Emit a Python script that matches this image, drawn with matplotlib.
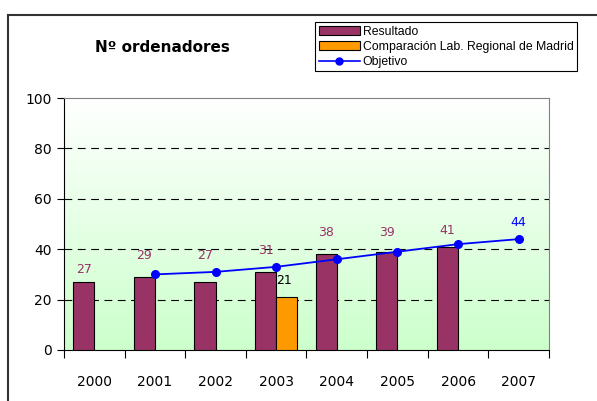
import numpy as np
import matplotlib.pyplot as plt
from matplotlib.lines import Line2D
from matplotlib.patches import Patch

years = ["2000", "2001", "2002", "2003", "2004", "2005", "2006", "2007"]
resultado = [27, 29, 27, 31, 38, 39, 41, None]
comparacion = [None, None, None, 21, None, None, None, None]
objetivo = [None, 30, 31, 33, 36, 39, 42, 44]

# label lifts above bar tops (Excel moved some around the line)
res_lift = [2.2, 5.8, 7.8, 5.8, 6, 5, 3.8, 0]

maroon = "#993366"
orange = "#FF9900"
blue = "#0000FF"

fig = plt.figure(figsize=(5.97, 4.01), dpi=100)
ax = fig.add_axes([0.1072, 0.1272, 0.8124, 0.6284])

x = np.arange(len(years))
w = 0.35

# gradient background
grad = np.linspace(0, 1, 256).reshape(-1, 1)
top = np.array([1.0, 1.0, 1.0])
bot = np.array([0.8, 1.0, 0.8])
img = top + (bot - top) * grad[:, :, None] * np.ones((1, 1, 3))
ax.imshow(img, aspect="auto", extent=(-0.5, 7.5, 0, 100), origin="upper", zorder=0)

for i in range(len(years)):
    if resultado[i] is not None:
        ax.bar(x[i] - w / 2, resultado[i], w, color=maroon, edgecolor="black",
               linewidth=0.8, zorder=3)
        ax.text(x[i] - w / 2, resultado[i] + res_lift[i], str(resultado[i]),
                ha="center", va="bottom", fontsize=9, color=maroon, zorder=5)
    if comparacion[i] is not None:
        ax.bar(x[i] + w / 2, comparacion[i], w, color=orange, edgecolor="black",
               linewidth=0.8, zorder=3)
        ax.text(x[i] + w / 2 - 0.05, comparacion[i] + 4, str(comparacion[i]),
                ha="center", va="bottom", fontsize=9, color="black", zorder=5)

ox = [x[i] for i in range(len(years)) if objetivo[i] is not None]
oy = [v for v in objetivo if v is not None]
ax.plot(ox, oy, color=blue, marker="o", markersize=5.5, linewidth=1.3, zorder=4)
ax.text(ox[-1], oy[-1] + 4, str(oy[-1]), ha="center", va="bottom", fontsize=9,
        color=blue, zorder=5)

ax.set_xlim(-0.5, 7.5)
ax.set_ylim(0, 100)
ax.set_yticks([0, 20, 40, 60, 80, 100])
ax.set_xticks(x)
ax.set_xticklabels(years, fontsize=10)
ax.set_xticks(np.arange(-0.5, 8, 1), minor=True)
ax.tick_params(axis="x", which="major", length=0, pad=18)
ax.tick_params(axis="x", which="minor", length=6, direction="out", width=0.8)
ax.tick_params(axis="y", length=5, width=0.8, labelsize=10, pad=4)

for g in [20, 40, 60, 80]:
    ax.axhline(g, color="black", linewidth=0.8, dashes=(7, 5), zorder=1)

ax.spines["left"].set_color("black")
ax.spines["bottom"].set_color("black")
ax.spines["top"].set_color("#808080")
ax.spines["right"].set_color("#808080")

fig.text(162 / 597, 1 - 47 / 401, "Nº ordenadores", ha="center", va="center",
         fontsize=11, fontweight="bold")

handles = [
    Patch(facecolor=maroon, edgecolor="black", linewidth=0.8),
    Patch(facecolor=orange, edgecolor="black", linewidth=0.8),
    Line2D([], [], color=blue, marker="o", markersize=5, linewidth=1.2),
]
leg = fig.legend(handles, ["Resultado", "Comparación Lab. Regional de Madrid", "Objetivo"],
                 loc="upper left", bbox_to_anchor=(315 / 597, 1 - 22 / 401),
                 prop={"family": "Liberation Sans", "size": 8.8}, handlelength=3.4,
                 handleheight=0.7, handletextpad=0.2, borderpad=0.3, labelspacing=0.25,
                 borderaxespad=0, fancybox=False, framealpha=1, edgecolor="black")
leg.get_frame().set_linewidth(0.8)

# outer chart frame
fig.add_artist(Line2D([8 / 597, 1], [1 - 15 / 401, 1 - 15 / 401], color="#333333",
                      linewidth=1.5, transform=fig.transFigure))
fig.add_artist(Line2D([8 / 597, 8 / 597], [0, 1 - 15 / 401], color="#333333",
                      linewidth=1.5, transform=fig.transFigure))

fig.savefig("out.png", dpi=100)
